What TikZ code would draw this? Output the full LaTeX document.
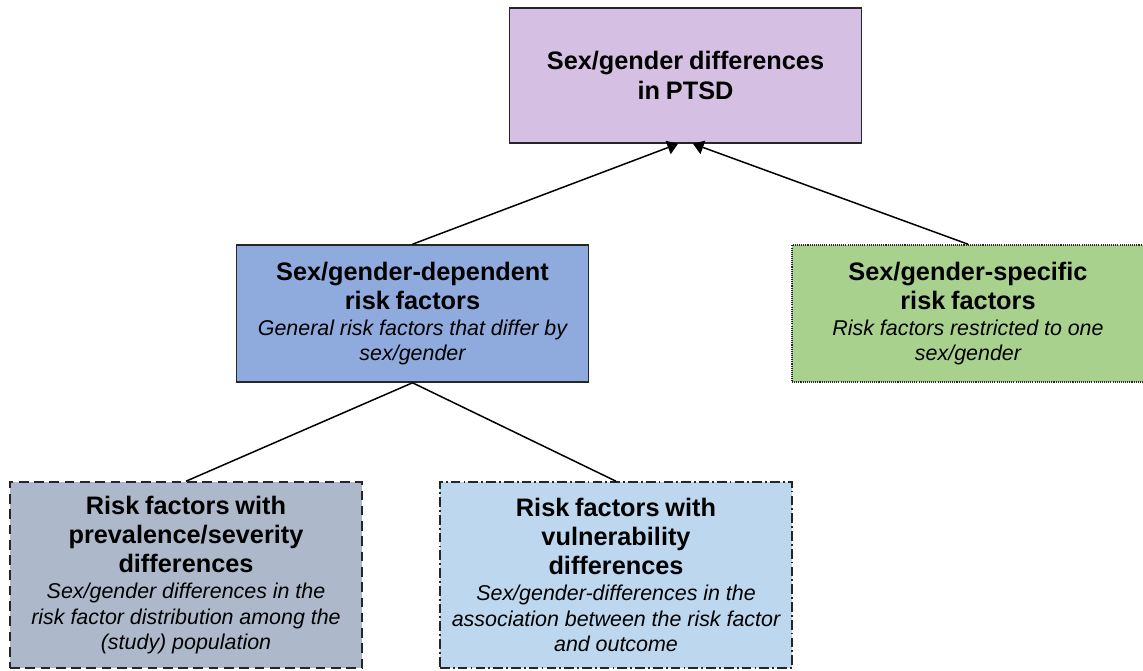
\documentclass[tikz,border=0pt]{standalone}
\usepackage{fontspec}
\setmainfont{Liberation Sans}
\usetikzlibrary{arrows.meta}

\definecolor{ptsdlilac}{RGB}{213,191,227}
\definecolor{depblue}{RGB}{143,170,220}
\definecolor{specgreen}{RGB}{169,209,142}
\definecolor{prevgrey}{RGB}{173,185,202}
\definecolor{vulnblue}{RGB}{189,215,238}

\newcommand{\headfont}{\bfseries\fontsize{14.4}{16.7}\selectfont}
\newcommand{\notefont}{\mdseries\itshape\fontsize{12.2}{14.6}\selectfont}

\begin{document}
\begin{tikzpicture}[x=0.02cm, y=-0.02cm,
		box/.style={draw=black!85, line width=0.9pt, align=center, inner sep=0pt,
			minimum width=7.04cm, text width=6.95cm,
			execute at begin node={\hyphenpenalty=10000}},
		link/.style={line width=0.85pt, black}]
		\useasboundingbox (0,0) rectangle (1143,671);

		% boxes
		\node[box, fill=ptsdlilac, minimum height=2.7cm] (ptsd) at (685.5,75.5)
			{\headfont Sex/gender differences\\ in PTSD\par};
		\node[box, fill=depblue, minimum height=2.74cm] (dep) at (412.5,313.5)
			{\headfont Sex/gender-dependent\\ risk factors\par
			\notefont General risk factors that differ by\\ sex/gender\par};
		\node[box, fill=specgreen, minimum height=2.74cm,
			dash pattern=on 0.6pt off 0.6pt] (spec) at (968,313.5)
			{\headfont Sex/gender-specific\\ risk factors\par
			\notefont Risk factors restricted to one\\ sex/gender\par};
		\node[box, fill=prevgrey, minimum height=3.72cm,
			dash pattern=on 5.5pt off 3.2pt] (prev) at (186,575)
			{\headfont Risk factors with\\ prevalence/severity\\ differences\par
			\notefont Sex/gender differences in the\\ risk factor distribution among the\\ (study) population\par};
		\node[box, fill=vulnblue, minimum height=3.72cm,
			dash pattern=on 5.5pt off 1.8pt on 1pt off 1.8pt] (vuln) at (616,575)
			{\headfont Risk factors with\\ vulnerability\\ differences\par
			\notefont Sex/gender-differences in the\\ association between the risk factor\\ and outcome\par};

		% where the arrows meet the top box
		\coordinate (inL) at ([xshift=-0.15cm]ptsd.south);
		\coordinate (inR) at ([xshift=0.15cm]ptsd.south);

		% connectors
		\draw[link, -{Triangle[length=6pt,width=8pt]}] (dep.north) -- (inL);
		\draw[link, -{Triangle[length=6pt,width=8pt]}] (spec.north) -- (inR);
		\draw[link] (dep.south) -- (prev.north);
		\draw[link] (dep.south) -- (vuln.north);
	\end{tikzpicture}
\end{document}
